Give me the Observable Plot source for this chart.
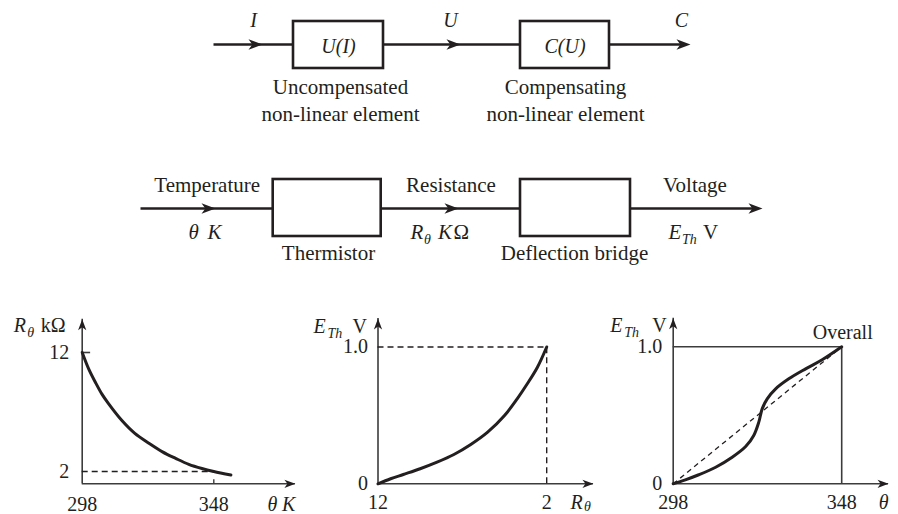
<!DOCTYPE html>
<html><head><meta charset="utf-8">
<script src="https://cdn.jsdelivr.net/npm/d3@7"></script>
<script src="https://cdn.jsdelivr.net/npm/@observablehq/plot@0.6"></script>
<style>
html,body{margin:0;padding:0;background:#fff;}
#wrap{position:relative;width:898px;height:514px;overflow:hidden;background:#fff;}
#wrap svg{position:absolute;background:transparent;}
</style></head><body><div id="wrap"></div>
<script>
// ================= DATA =================
// top block diagram
const topSignals = ["I", "U", "C"];
const topBlocks = ["U(I)", "C(U)"];
const topNotesLine1 = ["Uncompensated", "Compensating"];
const topNotesLine2 = ["non-linear element", "non-linear element"];
// middle block diagram
const midQuantities = ["Temperature", "Resistance", "Voltage"];
const midBlocks = ["Thermistor", "Deflection bridge"];
// unit labels: [text, italic, subscript]
const midUnits = [
  [["θ", true, false], ["K", true, false]],
  [["R", true, false], ["θ", true, true], ["K", true, false], ["Ω", false, false]],
  [["E", true, false], ["Th", true, true], ["V", false, false]]
];

// chart 1: thermistor R(θ)
const thetaK = [298, 300.5, 303, 305.5, 308, 313, 318, 323.5, 328.5, 333.5, 338.5, 343.5, 348, 354.5];
const rKohm  = [12, 10.6, 9.5, 8.5, 7.7, 6.3, 5.2, 4.35, 3.65, 3.1, 2.6, 2.25, 2.0, 1.7];
const c1XTicks = [298, 348];
const c1YTicks = [2, 12];
const c1AxisX = [298, 379];
const c1AxisY = [0.97, 14.8];

// chart 2: bridge E(R)
const rTheta  = [12, 11.25, 10.5, 9.5, 8.5, 7.5, 6.5, 5.5, 4.5, 3.75, 3.15, 2.55, 2];
const eBridge = [0, 0.037, 0.068, 0.11, 0.158, 0.214, 0.287, 0.377, 0.499, 0.621, 0.731, 0.852, 1];
const c2XTicks = [12, 2];
const c2YTicks = [0, 1];
const c2YLabels = ["0", "1.0"];
const c2AxisX = [12, -0.77];
const c2AxisY = [0, 1.208];

// chart 3: overall E(θ)
const thetaOverall = [298, 301.6, 305.6, 310.6, 315.5, 319.5, 321.9, 323.4, 324.4, 325.9, 328.4, 332.3, 337.3, 342.2, 348];
const eOverall     = [0, 0.029, 0.066, 0.121, 0.194, 0.272, 0.353, 0.45, 0.547, 0.62, 0.693, 0.766, 0.839, 0.905, 1];
const c3XTicks = [298, 348];
const c3YTicks = [0, 1];
const c3YLabels = ["0", "1.0"];
const c3AxisX = [298, 361.9];
const c3AxisY = [0, 1.208];

// ================= LAYOUT / STYLE =================
const SERIF = "Liberation Serif, Times New Roman, serif";
const INK = "#231f20";
const AXIS = "#3c3c3c";
const wrap = document.getElementById("wrap");

// filled barbed arrowhead, tip at the origin, pointing right
const ARROW = {
  draw(ctx, size) {
    const s = Math.sqrt(size / Math.PI);
    ctx.moveTo(0, 0);
    ctx.lineTo(-2 * s, -0.75 * s);
    ctx.lineTo(-1.45 * s, 0);
    ctx.lineTo(-2 * s, 0.75 * s);
    ctx.closePath();
  }
};

function place(svg, left, top) {
  svg.style.left = left + "px";
  svg.style.top = top + "px";
  wrap.appendChild(svg);
}

// ---------- diagrams ----------
const topLineY = 44, topBoxY = [21, 68], topLineX = [213, 684];
const topBoxX = [[293, 383], [520, 609]];
const topArrowX = [262, 460, 690];
const topSignalX = [253, 450, 681], topSignalBase = 26;
const topBlockBase = 52;
const topNoteX = [340, 565], topNoteBase = [93, 120];

const midLineY = 208, midBoxY = [179, 236], midLineX = [140, 756];
const midBoxX = [[272.7, 380.7], [520, 630]];
const midArrowX = [215, 458, 762];
const midQtyX = [206.7, 450.5, 694.5], midQtyBase = 191;
const midBlockX = [328, 574], midBlockBase = 259;
const midUnitX = [[188, 207], [410, 423.5, 437.5, 453], [668, 681.5, 702.5]];
const midUnitBase = 238, subDrop = 5;

const boxes = [
  ...topBoxX.map(([a, b]) => ({x1: a, x2: b, y1: topBoxY[0], y2: topBoxY[1]})),
  ...midBoxX.map(([a, b]) => ({x1: a, x2: b, y1: midBoxY[0], y2: midBoxY[1]}))
];
const lines = [
  {x1: topLineX[0], x2: topLineX[1], y1: topLineY, y2: topLineY},
  {x1: midLineX[0], x2: midLineX[1], y1: midLineY, y2: midLineY}
];
const heads = [
  ...topArrowX.map(x => ({x, y: topLineY})),
  ...midArrowX.map(x => ({x, y: midLineY}))
];
const diagText = [
  ...topSignals.map((t, i) => ({text: t, x: topSignalX[i], y: topSignalBase, italic: true, size: 20, anchor: "middle"})),
  ...topBlocks.map((t, i) => ({text: t, x: (topBoxX[i][0] + topBoxX[i][1]) / 2, y: topBlockBase, italic: true, size: 20, anchor: "middle"})),
  ...topNotesLine1.map((t, i) => ({text: t, x: topNoteX[i], y: topNoteBase[0], italic: false, size: 21, anchor: "middle"})),
  ...topNotesLine2.map((t, i) => ({text: t, x: topNoteX[i], y: topNoteBase[1], italic: false, size: 21, anchor: "middle"})),
  ...midQuantities.map((t, i) => ({text: t, x: midQtyX[i], y: midQtyBase, italic: false, size: 21, anchor: "middle"})),
  ...midBlocks.map((t, i) => ({text: t, x: midBlockX[i], y: midBlockBase, italic: false, size: 21, anchor: "middle"})),
  ...midUnits.flatMap((parts, i) => parts.map(([t, ital, sub], j) => ({
    text: t, x: midUnitX[i][j], y: midUnitBase + (sub ? subDrop : 0), italic: ital, size: sub ? 14 : 21, anchor: "start"})))
];
const diagTextMarks = ["start", "middle"].flatMap(a => {
  const sel = diagText.filter(d => d.anchor === a);
  return [false, true].map(ital => Plot.text(sel.filter(d => d.italic === ital), {
    x: "x", y: "y", text: "text", fontSize: "size", textAnchor: a, lineAnchor: "bottom",
    fontFamily: SERIF, fill: INK, fontStyle: ital ? "italic" : "normal"}));
});

place(Plot.plot({
  width: 898, height: 290, margin: 0,
  x: {domain: [0, 898], range: [0, 898], axis: null},
  y: {domain: [0, 290], range: [0, 290], axis: null},
  marks: [
    Plot.link(lines, {x1: "x1", x2: "x2", y1: "y1", y2: "y2", stroke: INK, strokeWidth: 2.6}),
    Plot.rect(boxes, {x1: "x1", x2: "x2", y1: "y1", y2: "y2", fill: "white", stroke: INK, strokeWidth: 2.6}),
    Plot.dot(heads, {x: "x", y: "y", symbol: ARROW, r: 7, fill: INK, stroke: "none"}),
    ...diagTextMarks
  ]
}), 0, 0);

// ---------- chart helper ----------
function chart({left, width, xDomain, xRange, yDomain, yRange, axisX, axisY, extra, labels}) {
  const x0 = axisX[0], y0 = axisY[0];
  const svg = Plot.plot({
    width, height: 214, margin: 0,
    x: {domain: xDomain, range: xRange, axis: null},
    y: {domain: yDomain, range: yRange, axis: null},
    marks: [
      Plot.ruleX([x0], {y1: axisY[0], y2: axisY[1], stroke: AXIS, strokeWidth: 1.6}),
      Plot.ruleY([y0], {x1: axisX[0], x2: axisX[1], stroke: AXIS, strokeWidth: 1.6}),
      Plot.dot([{x: x0, y: axisY[1]}], {x: "x", y: "y", symbol: ARROW, r: 5.5, rotate: -90, fill: INK, stroke: "none"}),
      Plot.dot([{x: axisX[1], y: y0}], {x: "x", y: "y", symbol: ARROW, r: 5.5, fill: INK, stroke: "none"}),
      ...extra,
      ...labels
    ]
  });
  place(svg, left, 300);
}

const lbl = (data, opts) => Plot.text(data, {fontFamily: SERIF, fontSize: 20, fill: INK, ...opts});

// ---------- chart 1 ----------
chart({
  left: 0, width: 300,
  xDomain: [298, 348], xRange: [81.7, 213.3],
  yDomain: [2, 12], yRange: [171, 52],
  axisX: c1AxisX, axisY: c1AxisY,
  extra: [
    Plot.ruleY([2], {x1: 298, x2: 348, stroke: INK, strokeWidth: 1.4, strokeDasharray: "6,4"}),
    Plot.ruleY([12], {x1: 298, x2: 301.2, stroke: AXIS, strokeWidth: 1.6}),
    Plot.ruleX([348], {y1: c1AxisY[0], y2: 1.3, stroke: AXIS, strokeWidth: 1.4}),
    Plot.line(thetaK.map((t, i) => ({t, r: rKohm[i]})), {x: "t", y: "r", curve: "catmull-rom", stroke: INK, strokeWidth: 3})
  ],
  labels: [
    lbl(c1YTicks, {x: 298, y: d => d, text: d => String(d), textAnchor: "end", dx: -13}),
    lbl(c1XTicks, {x: d => d, y: c1AxisY[0], text: d => String(d), lineAnchor: "bottom", dy: 27}),
    lbl(["θ"], {x: c1AxisX[1], y: c1AxisY[0], text: d => d, textAnchor: "end", lineAnchor: "bottom", dx: -18, dy: 27, fontStyle: "italic"}),
    lbl(["K"], {x: c1AxisX[1], y: c1AxisY[0], text: d => d, textAnchor: "end", lineAnchor: "bottom", dy: 27, fontStyle: "italic"}),
    lbl(["R"], {x: 298, y: c1AxisY[1], text: d => d, textAnchor: "start", lineAnchor: "bottom", dx: -68.5, dy: 13, fontStyle: "italic"}),
    lbl(["θ"], {x: 298, y: c1AxisY[1], text: d => d, textAnchor: "start", lineAnchor: "bottom", dx: -55, dy: 18, fontSize: 14, fontStyle: "italic"}),
    lbl(["kΩ"], {x: 298, y: c1AxisY[1], text: d => d, textAnchor: "start", lineAnchor: "bottom", dx: -41.5, dy: 13})
  ]
});

// ---------- chart 2 ----------
chart({
  left: 300, width: 300,
  xDomain: [12, 2], xRange: [77.5, 246.2],
  yDomain: [0, 1], yRange: [183.3, 46.5],
  axisX: c2AxisX, axisY: c2AxisY,
  extra: [
    Plot.ruleY([1], {x1: 12, x2: 2, stroke: INK, strokeWidth: 1.4, strokeDasharray: "6,4"}),
    Plot.ruleX([2], {y1: 0, y2: 1, stroke: INK, strokeWidth: 1.4, strokeDasharray: "6,4"}),
    Plot.line(rTheta.map((r, i) => ({r, e: eBridge[i]})), {x: "r", y: "e", curve: "catmull-rom", stroke: INK, strokeWidth: 3})
  ],
  labels: [
    lbl(c2YTicks, {x: 12, y: d => d, text: (d, i) => c2YLabels[i], textAnchor: "end", dx: -10}),
    lbl(c2XTicks, {x: d => d, y: 0, text: d => String(d), lineAnchor: "bottom", dy: 25}),
    lbl(["R"], {x: c2AxisX[1], y: 0, text: d => d, textAnchor: "start", lineAnchor: "bottom", dx: -23, dy: 25, fontStyle: "italic"}),
    lbl(["θ"], {x: c2AxisX[1], y: 0, text: d => d, textAnchor: "start", lineAnchor: "bottom", dx: -9.5, dy: 27.5, fontSize: 14, fontStyle: "italic"}),
    lbl(["E"], {x: 12, y: c2AxisY[1], text: d => d, textAnchor: "start", lineAnchor: "bottom", dx: -64.5, dy: 14, fontStyle: "italic"}),
    lbl(["Th"], {x: 12, y: c2AxisY[1], text: d => d, textAnchor: "start", lineAnchor: "bottom", dx: -50.5, dy: 19, fontSize: 14, fontStyle: "italic"}),
    lbl(["V"], {x: 12, y: c2AxisY[1], text: d => d, textAnchor: "start", lineAnchor: "bottom", dx: -25.5, dy: 14})
  ]
});

// ---------- chart 3 ----------
chart({
  left: 600, width: 298,
  xDomain: [298, 348], xRange: [72.7, 241.2],
  yDomain: [0, 1], yRange: [183.3, 46.3],
  axisX: c3AxisX, axisY: c3AxisY,
  extra: [
    Plot.ruleY([1], {x1: 298, x2: 348, stroke: AXIS, strokeWidth: 1.6}),
    Plot.ruleX([348], {y1: 0, y2: 1, stroke: AXIS, strokeWidth: 1.6}),
    Plot.link([{a: 298, b: 0, c: 348, d: 1}], {x1: "a", y1: "b", x2: "c", y2: "d", stroke: INK, strokeWidth: 1.3, strokeDasharray: "5,4"}),
    Plot.line(thetaOverall.map((t, i) => ({t, e: eOverall[i]})), {x: "t", y: "e", curve: "catmull-rom", stroke: INK, strokeWidth: 3})
  ],
  labels: [
    lbl(c3YTicks, {x: 298, y: d => d, text: (d, i) => c3YLabels[i], textAnchor: "end", dx: -11}),
    lbl(c3XTicks, {x: d => d, y: 0, text: d => String(d), lineAnchor: "bottom", dy: 25}),
    lbl(["θ"], {x: c3AxisX[1], y: 0, text: d => d, textAnchor: "end", lineAnchor: "bottom", dy: 25, fontStyle: "italic"}),
    lbl(["Overall"], {x: 348, y: 1, text: d => d, lineAnchor: "bottom", dx: 1, dy: -8}),
    lbl(["E"], {x: 298, y: c3AxisY[1], text: d => d, textAnchor: "start", lineAnchor: "bottom", dx: -63, dy: 14, fontStyle: "italic"}),
    lbl(["Th"], {x: 298, y: c3AxisY[1], text: d => d, textAnchor: "start", lineAnchor: "bottom", dx: -49, dy: 19, fontSize: 14, fontStyle: "italic"}),
    lbl(["V"], {x: 298, y: c3AxisY[1], text: d => d, textAnchor: "start", lineAnchor: "bottom", dx: -21, dy: 14})
  ]
});
</script></body></html>
